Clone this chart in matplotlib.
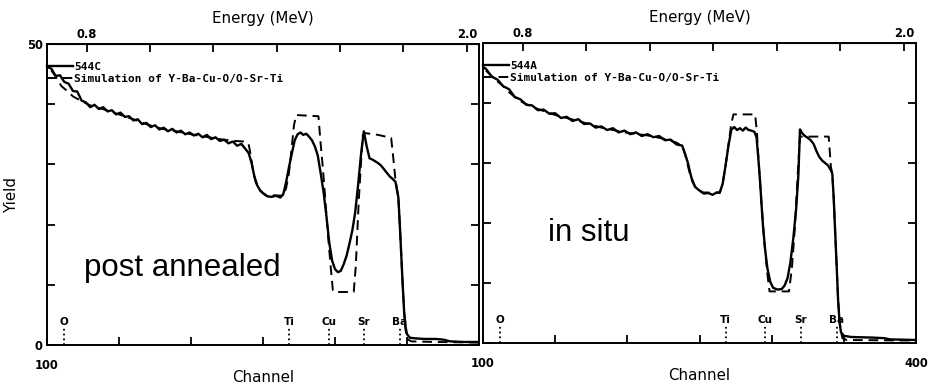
import numpy as np
import matplotlib
matplotlib.use("Agg")
import matplotlib.pyplot as plt

# ---------------- data ----------------
# Left panel (post annealed, sample 544C): measured spectrum
left_ch = [100, 103, 106, 109, 112, 115, 118, 121, 124, 127, 130, 133, 136, 139, 142, 145,
           148, 151, 154, 157, 160, 163, 166, 169, 172, 175, 178, 181, 184, 187, 190, 193,
           196, 199, 202, 205, 208, 211, 214, 217, 220, 223, 226, 229, 232, 235, 238, 240,
           242, 244, 246, 248, 250, 253, 256, 259, 262, 264, 266, 268, 270, 272, 274, 276,
           278, 280, 282, 284, 286, 288, 290, 292, 294, 296, 298, 300, 302, 304, 306, 308,
           310, 312, 314, 316, 318, 320, 322, 324, 326, 328, 330, 332, 334, 336, 338, 340,
           342, 344, 345, 346, 347, 348, 349, 350, 352, 356, 362, 370, 375, 380, 390, 400]
left_meas = [46.2, 45.9, 44.7, 44.8, 43.7, 43.4, 42.2, 42.1, 40.6, 40.3, 39.5, 39.9, 39.2, 39.5, 38.8, 39.0,
             38.3, 38.6, 37.9, 38.0, 37.3, 37.5, 36.7, 36.9, 36.2, 36.5, 35.8, 36.1, 35.5, 35.9, 35.3, 35.6,
             35.0, 35.3, 34.8, 35.1, 34.5, 34.9, 34.2, 34.5, 33.9, 34.1, 33.5, 33.8, 33.1, 33.4, 32.5, 31.9,
             30.3, 28.0, 26.5, 25.7, 25.2, 24.7, 24.6, 24.8, 24.5, 25.0, 27.0, 29.5, 31.8, 34.0, 35.0, 35.3,
             34.9, 35.1, 34.6, 34.0, 33.0, 31.5, 28.6, 25.5, 21.5, 17.0, 14.0, 12.6, 12.1, 12.3, 13.4, 14.8,
             16.8, 19.0, 22.0, 26.5, 31.5, 35.5, 33.0, 31.0, 30.8, 30.5, 30.2, 29.8, 29.2, 28.6, 28.0, 27.6,
             27.1, 24.5, 20.0, 15.0, 10.0, 5.5, 3.0, 1.8, 1.2, 1.1, 1.0, 1.0, 0.9, 0.6, 0.5, 0.5]

# Left panel: simulation of Y-Ba-Cu-O/O-Sr-Ti
left_sim_ch = [103, 106, 110, 114, 118, 124, 130, 140, 150, 160, 170, 180, 190, 200, 210, 220,
               230, 237, 240, 241.5, 243, 245, 248, 252, 264, 266, 268, 270, 271.5, 273, 288.5,
               290, 291.5, 293, 295, 297, 298.5, 299.5, 313, 314.4, 316.5, 319.2, 321, 330, 339,
               340.5, 342, 344, 345, 346, 347, 348, 349, 350, 353, 370, 400]
left_sim = [45.6, 44.6, 43.0, 42.2, 41.3, 40.5, 39.8, 39.1, 38.3, 37.5, 36.6, 35.9, 35.5, 35.0, 34.6, 34.2,
            33.9, 33.8, 33.4, 31.5, 29.0, 27.0, 25.6, 24.9, 24.8, 26.0, 28.5, 33.0, 36.5, 38.2, 38.0,
            33.5, 29.6, 25.0, 18.6, 13.0, 9.1, 8.8, 8.8, 13.0, 24.0, 34.8, 35.2, 34.9, 34.4,
            31.0, 27.4, 24.5, 20.0, 15.0, 10.0, 5.5, 2.5, 1.0, 0.6, 0.5, 0.4]

# Right panel (in situ, sample 544A): measured spectrum
right_ch = [100, 102, 106, 110, 114, 118, 122, 126, 130, 134, 138, 142, 146, 150, 154, 158,
            162, 166, 170, 174, 178, 182, 186, 190, 194, 198, 202, 206, 210, 214, 218, 222,
            226, 230, 234, 238, 240, 242, 243.5, 245, 247, 250, 253, 256, 259, 262, 264, 266,
            268, 270, 272, 274, 276, 278, 280, 282, 284, 286, 288, 289.5, 291, 292, 293, 294,
            295.5, 297, 299, 301, 304, 307, 309, 311, 313, 315, 317, 318.5, 319.6, 321, 323, 325,
            327, 329, 331, 333, 335, 337, 339, 341, 342, 343, 344, 345, 346, 347, 348, 350,
            355, 370, 378, 382, 400]
right_meas = [46.0, 45.7, 44.4, 43.9, 42.8, 42.3, 41.0, 40.6, 39.7, 39.6, 38.8, 38.9, 38.2, 38.3, 37.5, 37.7,
              37.0, 37.3, 36.5, 36.6, 35.9, 36.1, 35.5, 35.8, 35.1, 35.4, 34.8, 35.1, 34.5, 34.8, 34.3, 34.5,
              33.8, 33.9, 33.1, 32.9, 31.5, 30.0, 28.4, 27.0, 26.0, 25.4, 24.9, 25.0, 24.7, 25.1, 25.1, 26.5,
              29.5, 32.8, 35.5, 36.0, 35.5, 35.8, 35.4, 35.9, 35.5, 35.4, 35.2, 34.3, 30.0, 26.8, 23.0, 19.4,
              15.5, 12.5, 10.2, 9.2, 8.9, 9.0, 9.6, 10.8, 13.5, 17.5, 22.5, 28.0, 35.6, 35.0, 34.5, 34.2,
              33.8, 33.2, 32.0, 31.0, 30.4, 30.0, 29.6, 28.8, 28.2, 24.0, 18.4, 13.0, 7.2, 3.5, 1.8, 1.2,
              1.0, 0.9, 0.8, 0.6, 0.5]

# Right panel: simulation
right_sim_ch = [102, 106, 110, 114, 118, 122, 126, 130, 138, 150, 166, 182, 198, 214, 226, 234,
                238, 240, 243, 247, 252, 264, 266, 268, 270, 272, 273.5, 288.5, 289.8, 291, 293, 295,
                297, 298.5, 312, 314, 316, 318, 319.6, 339.5, 341, 342, 343, 344, 346, 347.5, 349,
                352, 400]
right_sim = [45.4, 44.5, 43.6, 42.8, 41.8, 41.0, 40.3, 39.8, 39.0, 38.0, 37.0, 35.9, 35.1, 34.6, 34.0, 33.4,
             32.8, 31.5, 28.5, 26.0, 25.1, 25.0, 26.5, 29.5, 33.0, 36.5, 38.1, 38.1, 35.1, 30.0, 23.0, 16.5,
             11.5, 8.6, 8.6, 12.5, 19.0, 28.0, 34.4, 34.4, 29.4, 28.2, 24.0, 18.4, 7.2, 2.5, 0.8,
             0.5, 0.4]

elements = ["O", "Ti", "Cu", "Sr", "Ba"]
element_ch = [112, 268, 295.5, 320, 345]

energy_ticks = [0.8, 1.0, 1.2, 1.4, 1.6, 1.8, 2.0]
energy_labels = ["0.8", "", "", "", "", "", "2.0"]
channel_ticks = [100, 150, 200, 250, 300, 350, 400]
yield_ticks = [0, 10, 20, 30, 40, 50]

# ---------------- figure ----------------
fig = plt.figure(figsize=(9.35, 3.84), dpi=100)
fig.patch.set_facecolor("white")

def ch2e(ch):
    return 0.8 + (np.asarray(ch, dtype=float) - 127.5) * 0.004545

def e2ch(e):
    return 127.5 + (np.asarray(e, dtype=float) - 0.8) / 0.004545

tick_font = dict(family="DejaVu Sans", weight="bold", size=8.3)
label_font = dict(family="DejaVu Sans", size=10.8)

def setup(ax, x_meas, y_meas, x_sim, y_sim, sample, note, note_xy,
          ylabels, xlabels):
    ax.plot(x_meas, y_meas, color="black", lw=1.7, label=sample)
    ax.plot(x_sim, y_sim, color="black", lw=1.4, ls=(0, (5, 3)),
            label="Simulation of Y-Ba-Cu-O/O-Sr-Ti")
    ax.set_xlim(100, 400)
    ax.set_ylim(0, 50)
    ax.set_xticks(channel_ticks)
    ax.set_xticklabels(xlabels, **tick_font)
    ax.set_yticks(yield_ticks)
    ax.set_yticklabels(ylabels, **tick_font)
    ax.tick_params(direction="in", length=6, width=1.3, top=False, right=True,
                   left=True, bottom=True, pad=3)
    ax.tick_params(axis="x", pad=10)
    for s in ax.spines.values():
        s.set_linewidth(1.4)
    ax.set_xlabel("Channel", labelpad=-1, **label_font)
    # element markers
    ax.vlines(element_ch, 0, 3.0, colors="black", linestyles=":", lw=1.3)
    for name, c in zip(elements, element_ch):
        ax.text(c, 3.9, name, ha="center", va="center", fontsize=7.5,
                fontweight="bold", family="DejaVu Sans")
    # secondary energy axis
    sec = ax.secondary_xaxis("top", functions=(ch2e, e2ch))
    sec.set_xticks(energy_ticks)
    sec.set_xticklabels(energy_labels, **tick_font)
    sec.tick_params(direction="in", length=6, width=1.3, pad=2)
    sec.set_xlabel("Energy (MeV)", labelpad=4, **label_font)
    # legend
    ax.legend(loc="upper left", bbox_to_anchor=(0.0, 0.94), frameon=False,
              prop=dict(family="DejaVu Sans Mono", size=8, weight="bold"),
              handlelength=2.3, handletextpad=0.15, labelspacing=0.2,
              borderaxespad=0, borderpad=0)
    # annotation
    ax.text(note_xy[0], note_xy[1], note, fontsize=22.5, family="Liberation Sans",
            ha="left", va="baseline")

axL = fig.add_axes([0.0503, 0.1016, 0.4620, 0.7838])
setup(axL, left_ch, left_meas, left_sim_ch, left_sim, "544C", "post annealed",
      (126, 11.5), ["0", "", "", "", "", "50"], ["100", "", "", "", "", "", ""])
axL.set_ylabel("Yield", labelpad=6, **label_font)

axR = fig.add_axes([0.5166, 0.1068, 0.4631, 0.7812])
setup(axR, right_ch, right_meas, right_sim_ch, right_sim, "544A", "in situ",
      (145, 17.0), ["", "", "", "", "", ""], ["100", "", "", "", "", "", "400"])

fig.savefig("out.png", dpi=100, facecolor="white")
